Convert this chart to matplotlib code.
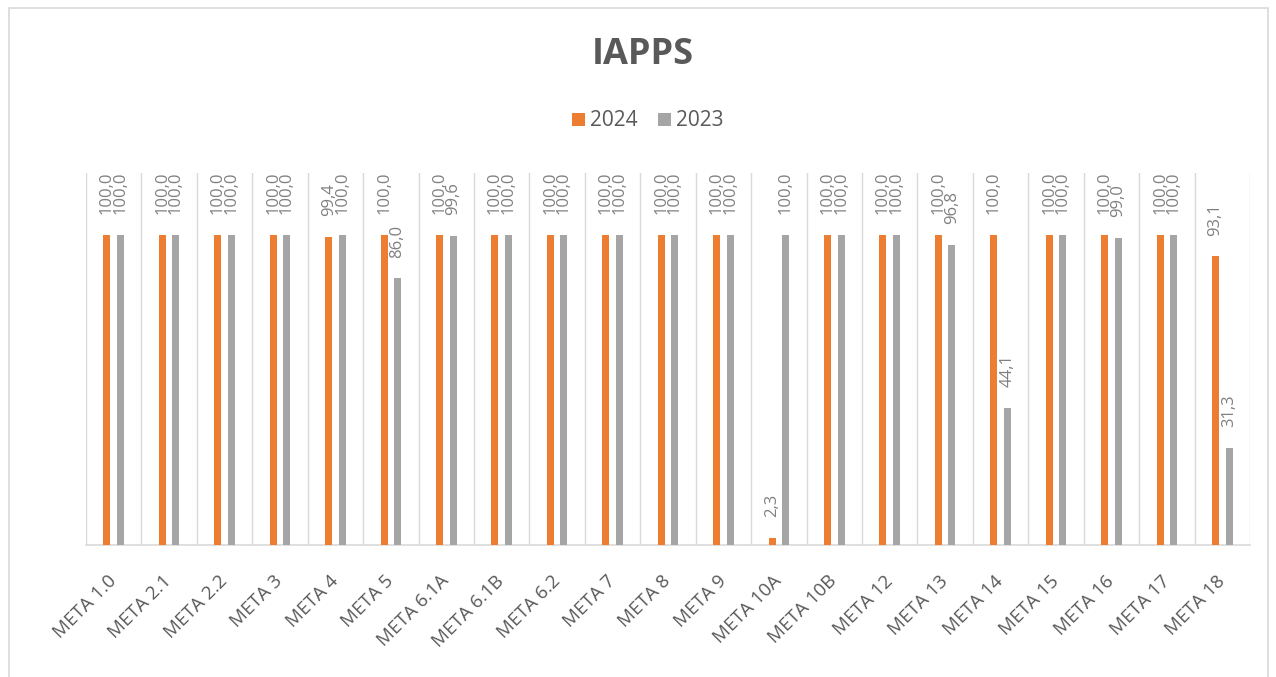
import numpy as np
import matplotlib.pyplot as plt
from matplotlib.patches import Rectangle

categories = ['META 1.0', 'META 2.1', 'META 2.2', 'META 3', 'META 4', 'META 5',
              'META 6.1A', 'META 6.1B', 'META 6.2', 'META 7', 'META 8', 'META 9',
              'META 10A', 'META 10B', 'META 12', 'META 13', 'META 14', 'META 15',
              'META 16', 'META 17', 'META 18']
vals_2024 = [100.0, 100.0, 100.0, 100.0, 99.4, 100.0, 100.0, 100.0, 100.0, 100.0,
             100.0, 100.0, 2.3, 100.0, 100.0, 100.0, 100.0, 100.0, 100.0, 100.0, 93.1]
vals_2023 = [100.0, 100.0, 100.0, 100.0, 100.0, 86.0, 99.6, 100.0, 100.0, 100.0,
             100.0, 100.0, 100.0, 100.0, 100.0, 96.8, 44.1, 100.0, 99.0, 100.0, 31.3]

ORANGE = '#ED7D31'
GRAY = '#A5A5A5'
TXT = '#595959'
LBL = '#808080'

plt.rcParams['font.family'] = ['Open Sans', 'DejaVu Sans']

fig = plt.figure(figsize=(12.76, 6.77), dpi=100)
ax = fig.add_axes([86/1276, 1 - 545/677, (1250 - 86)/1276, (545 - 173)/677])

x = np.arange(len(categories))
w = 0.125
off = 0.122
b1 = ax.bar(x - off, vals_2024, w, color=ORANGE, label='2024', zorder=3)
b2 = ax.bar(x + off, vals_2023, w, color=GRAY, label='2023', zorder=3)

for bars, vals in ((b1, vals_2024), (b2, vals_2023)):
    for rect, v in zip(bars, vals):
        ax.annotate(f'{v:.1f}'.replace('.', ','),
                    (rect.get_x() + rect.get_width()/2, v),
                    xytext=(0, 15), textcoords='offset points',
                    rotation=90, ha='center', va='bottom',
                    fontsize=12, color=LBL)

ax.set_xlim(-0.5, len(categories) - 0.5)
ax.set_ylim(0, 120)
ax.set_yticks([])
for b in np.arange(-0.5, len(categories), 1.0):
    ax.axvline(b, color='#D9D9D9', lw=1, zorder=1)
for s in ['top', 'right', 'left']:
    ax.spines[s].set_visible(False)
ax.spines['bottom'].set_color('#D9D9D9')
ax.spines['bottom'].set_linewidth(1.2)

ax.set_xticks(x)
ax.set_xticklabels(categories, rotation=45, ha='right', rotation_mode='anchor',
                   fontsize=13.5, color=TXT)
ax.tick_params(axis='x', length=0, pad=24)
for t in ax.get_xticklabels():
    t.set_va('center')

fig.text(643/1276, 1 - 55/677, 'IAPPS', ha='center', va='center',
         fontsize=26, fontweight='bold', color=TXT)
fig.legend(handles=[b1, b2], loc='center', bbox_to_anchor=(648/1276, 1 - 121/677),
           ncol=2, frameon=False, fontsize=15, labelcolor=TXT,
           handlelength=0.6, handleheight=0.6, handletextpad=0.25, columnspacing=1.0)

fig.patches.append(Rectangle((9/1276, -0.02), (1268 - 9)/1276, 1.02 - 7.5/677,
                             transform=fig.transFigure, fill=False,
                             edgecolor='#D9D9D9', lw=1.2))

fig.savefig('out.png', dpi=100)
